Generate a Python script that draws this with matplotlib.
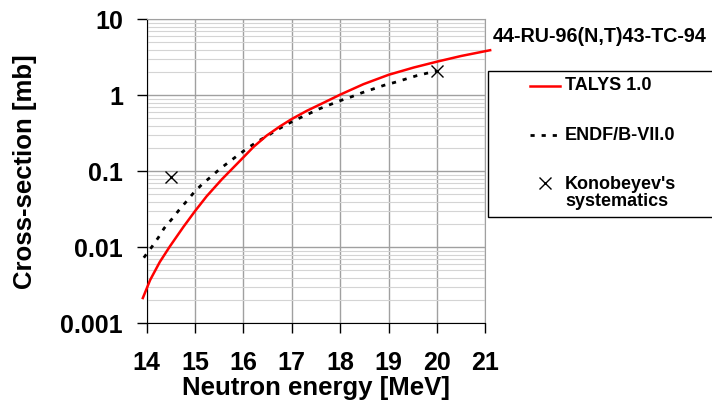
import matplotlib
matplotlib.use("Agg")
import matplotlib.pyplot as plt
from matplotlib.lines import Line2D
from matplotlib.patches import Rectangle
from matplotlib.ticker import FixedLocator, LogLocator, NullFormatter

plt.rcParams['font.family'] = ['Liberation Sans', 'DejaVu Sans']
plt.rcParams['font.weight'] = 'bold'

# TALYS 1.0 curve
talys_e = [13.92, 14.07, 14.27, 14.48, 14.76, 15.0, 15.24, 15.55, 15.86, 16.0, 16.21,
           16.48, 16.76, 17.0, 17.31, 17.66, 18.0, 18.48, 19.0, 19.52, 20.0, 20.5, 21.02, 21.1]
talys_xs = [0.00215, 0.0037, 0.0064, 0.0103, 0.0186, 0.0300, 0.0470, 0.078, 0.124, 0.153, 0.210,
            0.295, 0.392, 0.488, 0.625, 0.80, 1.02, 1.40, 1.86, 2.32, 2.77, 3.29, 3.83, 3.92]

# ENDF/B-VII.0 curve
endf_e = [13.94, 14.1, 14.24, 14.36, 14.52, 14.67, 14.83, 14.98, 15.15, 15.33, 15.51, 15.71,
          15.91, 16.1, 16.31, 16.48, 16.69, 16.91, 17.12, 17.34, 17.56, 17.77, 18.0, 18.24,
          18.45, 18.68, 18.9, 19.13, 19.36, 19.58, 19.79, 20.0]
endf_xs = [0.0073, 0.010, 0.0134, 0.0178, 0.0235, 0.031, 0.0407, 0.053, 0.068, 0.085, 0.107, 0.134,
           0.167, 0.205, 0.25, 0.29, 0.349, 0.419, 0.488, 0.567, 0.66, 0.745, 0.85, 0.96,
           1.08, 1.21, 1.35, 1.48, 1.64, 1.81, 1.95, 2.08]

# Konobeyev's systematics
kon_e = [14.5, 20.0]
kon_xs = [0.085, 2.1]

x_ticks = [14, 15, 16, 17, 18, 19, 20, 21]
y_ticks = [0.001, 0.01, 0.1, 1, 10]
y_tick_labels = ['0.001', '0.01', '0.1', '1', '10']

W, H = 712, 417
fig = plt.figure(figsize=(W / 100, H / 100), dpi=100)
ax = fig.add_axes([146.7 / W, 1 - 323.3 / H, (485.3 - 146.7) / W, (323.3 - 19.3) / H])

ax.set_yscale('log')
ax.set_xlim(14, 21)
ax.set_ylim(0.001, 10)

ax.set_xticks(x_ticks)
ax.set_xticklabels([str(v) for v in x_ticks])
ax.yaxis.set_major_locator(FixedLocator(y_ticks))
ax.set_yticklabels(y_tick_labels)
ax.yaxis.set_minor_locator(LogLocator(base=10, subs=range(2, 10), numticks=20))
ax.yaxis.set_minor_formatter(NullFormatter())

ax.grid(True, which='major', axis='both', color='#a0a0a0', lw=1.0)
ax.grid(True, which='minor', axis='y', color='#d4d4d4', lw=0.8)
ax.set_axisbelow(True)

ax.tick_params(axis='both', which='major', direction='out', length=7, width=1,
               labelsize=18, color='black')
ax.tick_params(axis='y', which='major', pad=10)
ax.tick_params(axis='x', which='major', pad=13)
ax.tick_params(axis='y', which='minor', length=0)
for lab in ax.get_xticklabels() + ax.get_yticklabels():
    lab.set_fontweight('bold')

ax.spines['left'].set_color('black')
ax.spines['bottom'].set_color('black')
ax.spines['top'].set_color('#a0a0a0')
ax.spines['right'].set_color('#a0a0a0')

ax.plot(talys_e, talys_xs, color='#ff0000', lw=1.8, clip_on=False, zorder=4)
ax.plot(endf_e, endf_xs, color='black', lw=2.0, dashes=(1.5, 2.5), clip_on=False, zorder=3)
ax.plot(kon_e, kon_xs, ls='none', marker='x', ms=9, mew=1.0, color='black', zorder=5)

ax.set_xlabel('Neutron energy [MeV]', fontsize=18.5, fontweight='bold', labelpad=1)
ax.set_ylabel('Cross-section [mb]', fontsize=18.5, fontweight='bold', labelpad=17)

# title
fig.text(493 / W, 1 - 37 / H, '44-RU-96(N,T)43-TC-94', fontsize=14.2, fontweight='bold',
         ha='left', va='center')

# legend box (manual)
fig.patches.append(Rectangle((488 / W, 1 - 217 / H), 230 / W, 146 / H,
                             transform=fig.transFigure, facecolor='white',
                             edgecolor='black', lw=1.0, zorder=1))
fig.lines.append(Line2D([530 / W, 560 / W], [1 - 86 / H] * 2, transform=fig.transFigure,
                       color='#ff0000', lw=1.8))
fig.lines.append(Line2D([530 / W, 560 / W], [1 - 135 / H] * 2, transform=fig.transFigure,
                       color='black', lw=2.0, dashes=(1.5, 2.5)))
fig.lines.append(Line2D([545 / W], [1 - 183 / H], transform=fig.transFigure,
                       ls='none', marker='x', ms=8, mew=1.0, color='black'))
fig.text(565 / W, 1 - 86 / H, 'TALYS 1.0', fontsize=13, fontweight='bold', va='center')
fig.text(565 / W, 1 - 135 / H, 'ENDF/B-VII.0', fontsize=13, fontweight='bold', va='center')
fig.text(565 / W, 1 - 193 / H, "Konobeyev's\nsystematics", fontsize=13, fontweight='bold',
         va='center', linespacing=0.95)

fig.savefig('out.png', dpi=100)
